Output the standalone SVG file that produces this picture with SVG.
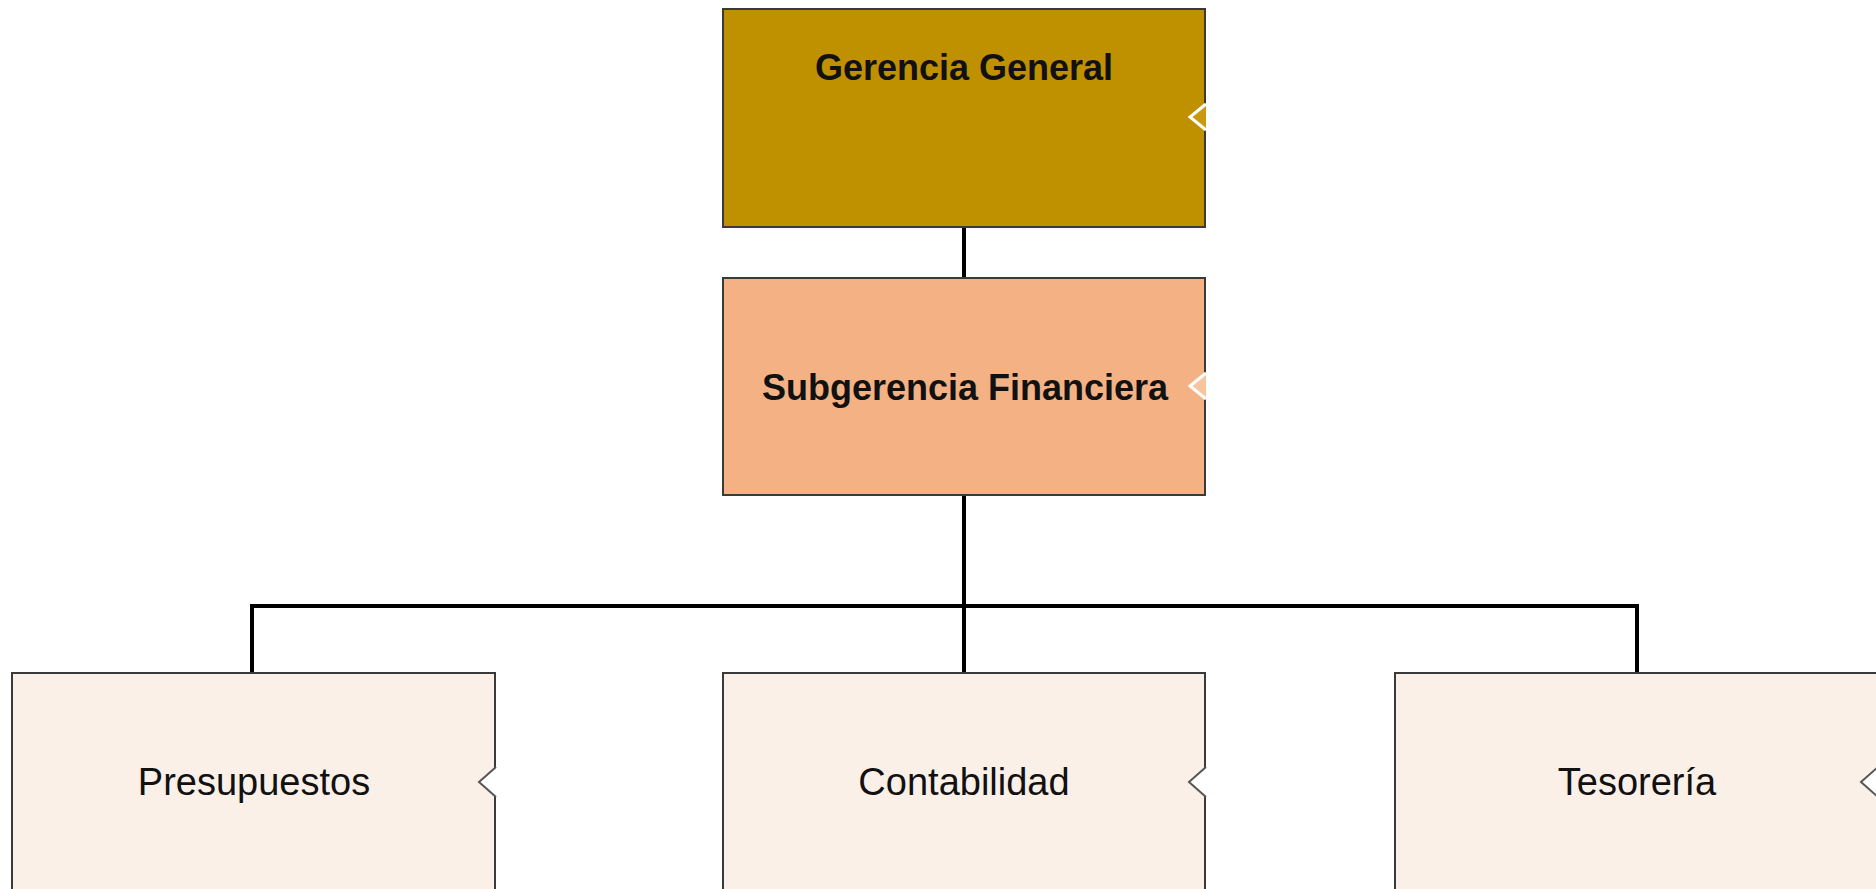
<svg xmlns="http://www.w3.org/2000/svg" width="1876" height="889" viewBox="0 0 1876 889">
<style>
.box{stroke:#3a3a3a;stroke-width:2}
.t{font-family:"Liberation Sans",Arial,sans-serif;fill:#111;text-anchor:middle}
.b{font-weight:bold;font-size:36px}
.n{font-size:38px}
.conn{stroke:#000;stroke-width:4;fill:none}
.notchL{fill:#fff;stroke:#555;stroke-width:2}
.notchW{stroke:#fff;stroke-width:3}
</style>
<rect width="1876" height="889" fill="#fff"/>
<g id="connectors">
<line class="conn" x1="964" y1="227" x2="964" y2="278"/>
<line class="conn" x1="964" y1="495" x2="964" y2="673"/>
<polyline class="conn" points="252,673 252,606 1637,606 1637,673"/>
</g>
<g id="gerencia-general">
<rect class="box" x="723" y="9" width="482" height="218" fill="#BF9000"/>
<path class="notchW" d="M1206,104 L1190,117 L1206,130" fill="#C99A10"/>
<text class="t b" x="964" y="80">Gerencia General</text>
</g>
<g id="subgerencia-financiera">
<rect class="box" x="723" y="278" width="482" height="217" fill="#F4B183"/>
<path class="notchW" d="M1206,373 L1190,386 L1206,399" fill="#F7C49E"/>
<text class="t b" x="965" y="400">Subgerencia Financiera</text>
</g>
<g id="presupuestos">
<rect class="box" x="12" y="673" width="483" height="220" fill="#FBF0E8"/>
<path class="notchL" d="M496,767 L479,782 L496,797"/>
<text class="t n" x="254" y="795">Presupuestos</text>
</g>
<g id="contabilidad">
<rect class="box" x="723" y="673" width="482" height="220" fill="#FBF0E8"/>
<path class="notchL" d="M1206,767 L1189,782 L1206,797"/>
<text class="t n" x="964" y="795">Contabilidad</text>
</g>
<g id="tesoreria">
<rect class="box" x="1395" y="673" width="484" height="220" fill="#FBF0E8"/>
<path class="notchL" d="M1878,767 L1861,782 L1878,797"/>
<text class="t n" x="1637" y="795">Tesorería</text>
</g>
</svg>
